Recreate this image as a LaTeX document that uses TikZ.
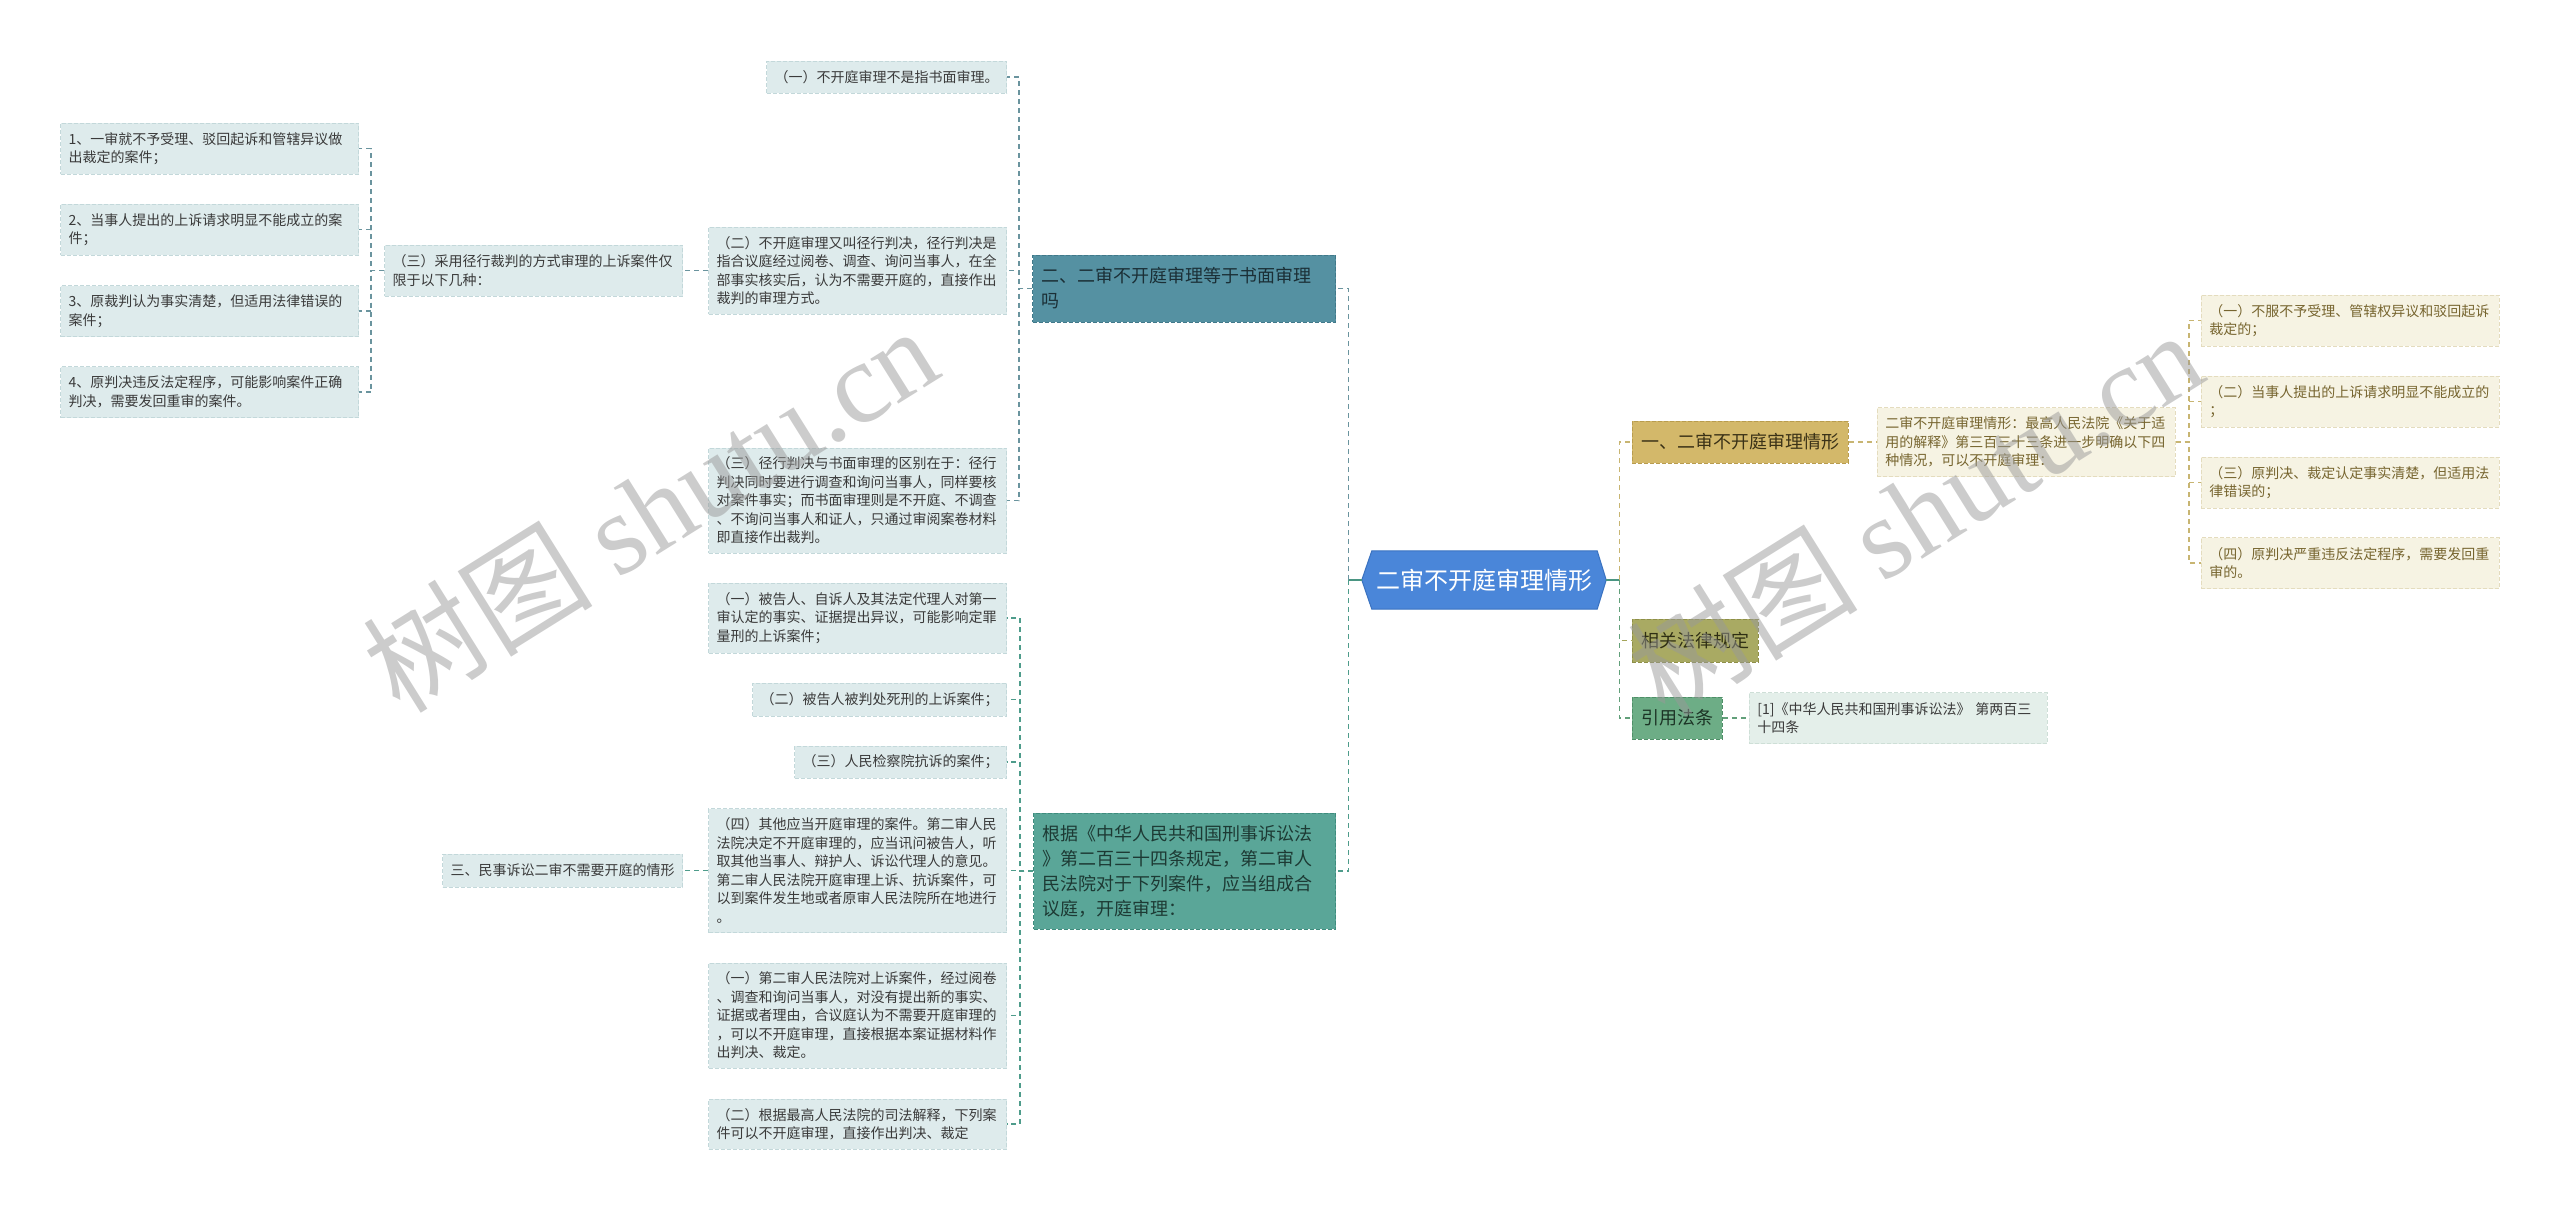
\documentclass[tikz,border=0pt]{standalone}
\usepackage{fontspec}
\setmainfont{Noto Sans CJK SC}
\newfontfamily\wmserif{Liberation Serif}
\usetikzlibrary{calc}
\pgfdeclarelayer{bg}
\pgfsetlayers{bg,main}
\definecolor{leafF}{HTML}{DEEBEC}
\definecolor{leafB}{HTML}{C3D8DA}
\definecolor{txt}{HTML}{3A3A3A}
\definecolor{lOneF}{HTML}{5591A2}
\definecolor{lOneB}{HTML}{41798A}
\definecolor{lOneT}{HTML}{1B2F36}
\definecolor{lTwoF}{HTML}{5AA698}
\definecolor{lTwoB}{HTML}{3F8C7E}
\definecolor{lTwoT}{HTML}{1D3A34}
\definecolor{cenF}{HTML}{4A86D9}
\definecolor{cenB}{HTML}{3A72C0}
\definecolor{rOneF}{HTML}{D3B86A}
\definecolor{rOneB}{HTML}{B89C4E}
\definecolor{rOneT}{HTML}{3B3217}
\definecolor{rTwoF}{HTML}{A9AA63}
\definecolor{rTwoB}{HTML}{8E8F48}
\definecolor{rTwoT}{HTML}{2E2E14}
\definecolor{rThrF}{HTML}{6DAD86}
\definecolor{rThrB}{HTML}{4F8F68}
\definecolor{rThrT}{HTML}{1C3325}
\definecolor{creamF}{HTML}{F6F3E3}
\definecolor{creamB}{HTML}{E4DCBE}
\definecolor{creamT}{HTML}{77652F}
\definecolor{citeF}{HTML}{E4EFEA}
\definecolor{citeB}{HTML}{CEDFD7}
\definecolor{cLOne}{HTML}{6A949E}
\definecolor{cLTwo}{HTML}{4E9C8B}
\definecolor{cROne}{HTML}{C8B572}
\definecolor{cRTwo}{HTML}{A5A55A}
\definecolor{cRThr}{HTML}{62A07A}
\definecolor{cCen}{HTML}{4A9582}
\definecolor{wmgray}{HTML}{999999}
\begin{document}
\begin{tikzpicture}[x=1pt,y=-1pt,
  boxbase/.style={dash pattern=on 4pt off 2pt, line width=0.9pt, inner ysep=0pt, align=left},
  leafL/.style={boxbase, draw=leafB, fill=leafF, text=txt, inner xsep=8pt, font=\fontsize{14}{18.5}\selectfont},
  cream/.style={boxbase, draw=creamB, fill=creamF, text=creamT, inner xsep=8pt, font=\fontsize{14}{18.5}\selectfont},
  cite/.style={boxbase, draw=citeB, fill=citeF, text=txt, inner xsep=8pt, font=\fontsize{14}{18.5}\selectfont},
  branch/.style={boxbase, inner xsep=9pt, font=\fontsize{18}{25}\selectfont},
  link/.style={line width=1.3pt, dash pattern=on 5pt off 4pt},
  solidc/.style={line width=1.6pt, draw=cCen},
  wm/.style={rotate=32, font=\fontsize{115}{115}\selectfont, text=wmgray, text opacity=0.5, inner sep=0pt}
]
\useasboundingbox (0,0) rectangle (2560,1210);

% centre
\node[text=white, font=\fontsize{24}{28}\selectfont, minimum width=244pt, minimum height=58pt, inner sep=0pt] (C) at (1484,580) {二审不开庭审理情形};
\begin{pgfonlayer}{bg}
\filldraw[fill=cenF, draw=cenB, line width=1pt] (C.west) -- ($(C.north west)+(10,0)$) -- ($(C.north east)+(-9,0)$) -- (C.east) -- ($(C.south east)+(-9,0)$) -- ($(C.south west)+(10,0)$) -- cycle;
\end{pgfonlayer}

% left first level
\node[branch, draw=lOneB, fill=lOneF, text=lOneT, text width=285pt, minimum height=67pt, anchor=east] (L1) at (1336,288.5) {二、二审不开庭审理等于书面审理\\吗};
\node[branch, draw=lTwoB, fill=lTwoF, text=lTwoT, text width=284pt, minimum height=116pt, anchor=east] (L2) at (1336,871) {根据《中华人民共和国刑事诉讼法\\》第二百三十四条规定，第二审人\\民法院对于下列案件，应当组成合\\议庭，开庭审理：};

% children of L1
\node[leafL, minimum height=32pt, anchor=east] (C1) at (1007,77) {（一）不开庭审理不是指书面审理。};
\node[leafL, text width=282pt, minimum height=87pt, anchor=east] (C2) at (1007,270.5) {（二）不开庭审理又叫径行判决，径行判决是\\指合议庭经过阅卷、调查、询问当事人，在全\\部事实核实后，认为不需要开庭的，直接作出\\裁判的审理方式。};
\node[leafL, text width=282pt, minimum height=105pt, anchor=east] (C3) at (1007,500.5) {（三）径行判决与书面审理的区别在于：径行\\判决同时要进行调查和询问当事人，同样要核\\对案件事实；而书面审理则是不开庭、不调查\\、不询问当事人和证人，只通过审阅案卷材料\\即直接作出裁判。};

\node[leafL, text width=282pt, minimum height=51pt, anchor=east] (B) at (683,270.5) {（三）采用径行裁判的方式审理的上诉案件仅\\限于以下几种：};

\node[leafL, text width=282pt, minimum height=51pt, anchor=east] (A1) at (359,148.5) {1、一审就不予受理、驳回起诉和管辖异议做\\出裁定的案件；};
\node[leafL, text width=282pt, minimum height=51pt, anchor=east] (A2) at (359,229.5) {2、当事人提出的上诉请求明显不能成立的案\\件；};
\node[leafL, text width=282pt, minimum height=51pt, anchor=east] (A3) at (359,311) {3、原裁判认为事实清楚，但适用法律错误的\\案件；};
\node[leafL, text width=282pt, minimum height=51pt, anchor=east] (A4) at (359,392) {4、原判决违反法定程序，可能影响案件正确\\判决，需要发回重审的案件。};

% children of L2
\node[leafL, text width=282pt, minimum height=70pt, anchor=east] (D1) at (1007,618) {（一）被告人、自诉人及其法定代理人对第一\\审认定的事实、证据提出异议，可能影响定罪\\量刑的上诉案件；};
\node[leafL, minimum height=33pt, anchor=east] (D2) at (1007,699.5) {（二）被告人被判处死刑的上诉案件；};
\node[leafL, minimum height=32pt, anchor=east] (D3) at (1007,762) {（三）人民检察院抗诉的案件；};
\node[leafL, text width=282pt, minimum height=124pt, anchor=east] (D4) at (1007,870.5) {（四）其他应当开庭审理的案件。第二审人民\\法院决定不开庭审理的，应当讯问被告人，听\\取其他当事人、辩护人、诉讼代理人的意见。\\第二审人民法院开庭审理上诉、抗诉案件，可\\以到案件发生地或者原审人民法院所在地进行\\。};
\node[leafL, text width=282pt, minimum height=105pt, anchor=east] (D5) at (1007,1015.5) {（一）第二审人民法院对上诉案件，经过阅卷\\、调查和询问当事人，对没有提出新的事实、\\证据或者理由，合议庭认为不需要开庭审理的\\，可以不开庭审理，直接根据本案证据材料作\\出判决、裁定。};
\node[leafL, text width=282pt, minimum height=50pt, anchor=east] (D6) at (1007,1124) {（二）根据最高人民法院的司法解释，下列案\\件可以不开庭审理，直接作出判决、裁定};
\node[leafL, minimum height=33pt, anchor=east] (E) at (683,870.5) {三、民事诉讼二审不需要开庭的情形};

% right side
\node[branch, draw=rOneB, fill=rOneF, text=rOneT, minimum height=42pt, anchor=west] (R1) at (1632,442) {一、二审不开庭审理情形};
\node[branch, draw=rTwoB, fill=rTwoF, text=rTwoT, minimum height=43pt, anchor=west] (R2) at (1632,640.5) {相关法律规定};
\node[branch, draw=rThrB, fill=rThrF, text=rThrT, minimum height=42pt, anchor=west] (R3) at (1632,718) {引用法条};

\node[cream, text width=282pt, minimum height=69pt, anchor=west] (R1a) at (1877,442) {二审不开庭审理情形：最高人民法院《关于适\\用的解释》第三百三十三条进一步明确以下四\\种情况，可以不开庭审理：};
\node[cream, text width=282pt, minimum height=51pt, anchor=west] (Q1) at (2201,320.5) {（一）不服不予受理、管辖权异议和驳回起诉\\裁定的；};
\node[cream, text width=282pt, minimum height=51pt, anchor=west] (Q2) at (2201,401.5) {（二）当事人提出的上诉请求明显不能成立的\\；};
\node[cream, text width=282pt, minimum height=51pt, anchor=west] (Q3) at (2201,482.5) {（三）原判决、裁定认定事实清楚，但适用法\\律错误的；};
\node[cream, text width=282pt, minimum height=51pt, anchor=west] (Q4) at (2201,563) {（四）原判决严重违反法定程序，需要发回重\\审的。};
\node[cite, text width=282pt, minimum height=51pt, anchor=west] (R3a) at (1749,718) {[1]《中华人民共和国刑事诉讼法》 第两百三\\十四条};

% connectors
\draw[solidc] (C.west) -- ++(-13,0) coordinate (cl);
\draw[solidc] (C.east) -- ++(13,0) coordinate (cr);
\draw[link, draw=cLOne] (cl) |- (L1.east);
\draw[link, draw=cLTwo] (cl) |- (L2.east);
\draw[link, draw=cROne] (cr) |- (R1.west);
\draw[link, draw=cRTwo] (cr) |- (R2.west);
\draw[link, draw=cRThr] (cr) |- (R3.west);
\foreach \k in {C1,C2,C3} \draw[link, draw=cLOne] (L1.west) -- ++(-13,0) |- (\k.east);
\draw[link, draw=cLOne] (C2.west) -- (B.east);
\foreach \k in {A1,A2,A3,A4} \draw[link, draw=cLOne] (B.west) -- ++(-13,0) |- (\k.east);
\foreach \k in {D1,D2,D3,D4,D5,D6} \draw[link, draw=cLTwo] (L2.west) -- ++(-13,0) |- (\k.east);
\draw[link, draw=cLTwo] (D4.west) -- (E.east);
\draw[link, draw=cROne] (R1.east) -- (R1a.west);
\foreach \k in {Q1,Q2,Q3,Q4} \draw[link, draw=cROne] (R1a.east) -- ++(13,0) |- (\k.west);
\draw[link, draw=cRThr] (R3.east) -- (R3a.west);

% watermarks
\node[wm] (w1) at (650,508) {树图 {\wmserif shutu.cn}};
\node[wm] (w2) at (1915,512) {树图 {\wmserif shutu.cn}};
\end{tikzpicture}
\end{document}
